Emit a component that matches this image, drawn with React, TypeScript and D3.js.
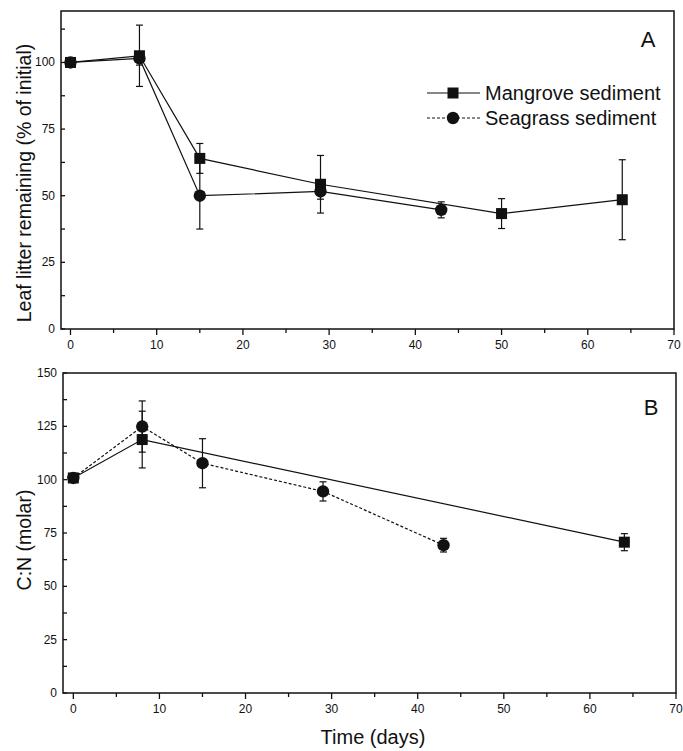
import React, { useEffect, useRef } from 'react';
import * as d3 from 'd3';

// Panel A: leaf litter remaining (% of initial)
const daysMangroveA = [0, 8, 15, 29, 50, 64];
const mangroveA = [100, 102.5, 64, 54.3, 43.3, 48.5];
const mangroveErrA = [0, 11.5, 5.6, 10.8, 5.6, 15];
const daysSeagrassA = [0, 8, 15, 29, 43];
const seagrassA = [100, 101.5, 50, 51.6, 44.7];
const seagrassErrA = [0, 2.5, 12.5, 2.9, 3];

// Panel B: C:N (molar)
const daysMangroveB = [0, 8, 64];
const mangroveB = [100.8, 118.8, 70.7];
const mangroveErrB = [0, 13.3, 4];
const daysSeagrassB = [0, 8, 15, 29, 43];
const seagrassB = [100.8, 124.9, 107.7, 94.5, 69.3];
const seagrassErrB = [0, 12, 11.5, 4.5, 3.2];

const xTicks = [0, 10, 20, 30, 40, 50, 60, 70];
const yTicksA = [0, 25, 50, 75, 100];
const yTicksB = [0, 25, 50, 75, 100, 125, 150];

const legendLabels = ['Mangrove sediment', 'Seagrass sediment'];

const FONT = '"Liberation Sans", Arial, sans-serif';

function App() {
  const ref = useRef<SVGSVGElement>(null);

  useEffect(() => {
    const svg = d3.select(ref.current);
    svg.selectAll('*').remove();

    const drawPanel = (opts: any) => {
      const { left, right, top, bottom, xDomain, yDomain, yTicks, yMinor, letter, letterPos, ylabel, ylabelY, series } = opts;
      const x = d3.scaleLinear().domain(xDomain).range([left, right]);
      const y = d3.scaleLinear().domain(yDomain).range([bottom, top]);
      const g = svg.append('g');

      // frame
      g.append('rect')
        .attr('x', left).attr('y', top)
        .attr('width', right - left).attr('height', bottom - top)
        .attr('fill', 'none').attr('stroke', '#111').attr('stroke-width', 1.5);

      // x ticks (outward)
      const xAll = d3.range(0, 71, 5);
      g.selectAll('line.xt').data(xAll).enter().append('line')
        .attr('x1', d => x(d)).attr('x2', d => x(d))
        .attr('y1', bottom).attr('y2', d => bottom + (d % 10 === 0 ? 6 : 4))
        .attr('stroke', '#111').attr('stroke-width', 1.3);
      g.selectAll('text.xl').data(xTicks).enter().append('text')
        .attr('x', d => x(d)).attr('y', bottom + 20)
        .attr('text-anchor', 'middle')
        .style('font-family', FONT).style('font-size', '12px').attr('fill', '#111')
        .text(d => d);

      // y ticks (inward)
      g.selectAll('line.yt').data(yMinor).enter().append('line')
        .attr('x1', left).attr('x2', left + 4)
        .attr('y1', (d: number) => y(d)).attr('y2', (d: number) => y(d))
        .attr('stroke', '#111').attr('stroke-width', 1.3);
      g.selectAll('text.yl').data(yTicks).enter().append('text')
        .attr('x', left - 6).attr('y', (d: number) => y(d) + 4)
        .attr('text-anchor', 'end')
        .style('font-family', FONT).style('font-size', '12px').attr('fill', '#111')
        .text((d: number) => d);

      // y label
      g.append('text')
        .attr('transform', `translate(31,${ylabelY}) rotate(-90)`)
        .attr('text-anchor', 'middle')
        .style('font-family', FONT).style('font-size', '19.5px').attr('fill', '#111')
        .text(ylabel);

      // panel letter
      g.append('text')
        .attr('x', letterPos[0]).attr('y', letterPos[1])
        .attr('text-anchor', 'middle')
        .style('font-family', FONT).style('font-size', '22px').attr('fill', '#111')
        .text(letter);

      series.forEach((s: any) => {
        const pts = s.days.map((d: number, i: number) => ({ d, v: s.vals[i], e: s.errs[i] }));
        const line = d3.line<any>().x(p => x(p.d)).y(p => y(p.v));
        g.append('path').datum(pts)
          .attr('d', line).attr('fill', 'none')
          .attr('stroke', '#111').attr('stroke-width', 1.2)
          .attr('stroke-dasharray', s.dashed ? '3,2' : null);

        // error bars
        const eb = pts.filter((p: any) => p.e > 0);
        eb.forEach((p: any) => {
          const cx = x(p.d);
          g.append('line').attr('x1', cx).attr('x2', cx)
            .attr('y1', y(p.v - p.e)).attr('y2', y(p.v + p.e))
            .attr('stroke', '#111').attr('stroke-width', 1.2);
          [p.v - p.e, p.v + p.e].forEach(v => {
            g.append('line').attr('x1', cx - 3.5).attr('x2', cx + 3.5)
              .attr('y1', y(v)).attr('y2', y(v))
              .attr('stroke', '#111').attr('stroke-width', 1.2);
          });
        });

        // markers
        pts.forEach((p: any) => {
          if (s.shape === 'square') {
            g.append('rect')
              .attr('x', x(p.d) - 5.5).attr('y', y(p.v) - 5.5)
              .attr('width', 11).attr('height', 11).attr('fill', '#111');
          } else {
            g.append('circle')
              .attr('cx', x(p.d)).attr('cy', y(p.v)).attr('r', 6.2).attr('fill', '#111');
          }
        });
      });

      return { x, y };
    };

    drawPanel({
      left: 61, right: 674, top: 11, bottom: 329,
      xDomain: [-1.1, 70], yDomain: [0, 119.3],
      yTicks: yTicksA, yMinor: d3.range(0, 119, 12.5),
      letter: 'A', letterPos: [648, 47],
      ylabel: 'Leaf litter remaining (% of initial)', ylabelY: 183,
      series: [
        { days: daysMangroveA, vals: mangroveA, errs: mangroveErrA, shape: 'square', dashed: false },
        { days: daysSeagrassA, vals: seagrassA, errs: seagrassErrA, shape: 'circle', dashed: false },
      ],
    });

    drawPanel({
      left: 63, right: 676, top: 373, bottom: 693,
      xDomain: [-1.2, 70], yDomain: [0, 150],
      yTicks: yTicksB, yMinor: d3.range(0, 151, 12.5),
      letter: 'B', letterPos: [651, 415],
      ylabel: 'C:N (molar)', ylabelY: 540,
      series: [
        { days: daysMangroveB, vals: mangroveB, errs: mangroveErrB, shape: 'square', dashed: false },
        { days: daysSeagrassB, vals: seagrassB, errs: seagrassErrB, shape: 'circle', dashed: true },
      ],
    });

    // legend
    const legend = svg.append('g');
    legendLabels.forEach((lab, i) => {
      const ly = 93 + i * 25;
      legend.append('line')
        .attr('x1', 427).attr('x2', 480).attr('y1', ly).attr('y2', ly)
        .attr('stroke', '#111').attr('stroke-width', 1.2)
        .attr('stroke-dasharray', i === 1 ? '3,2' : null);
      if (i === 0) {
        legend.append('rect').attr('x', 453 - 5.5).attr('y', ly - 5.5)
          .attr('width', 11).attr('height', 11).attr('fill', '#111');
      } else {
        legend.append('circle').attr('cx', 453).attr('cy', ly).attr('r', 6.2).attr('fill', '#111');
      }
      legend.append('text')
        .attr('x', 485).attr('y', ly + 7)
        .style('font-family', FONT).style('font-size', '20px').attr('fill', '#111')
        .text(lab);
    });

    // x axis title
    svg.append('text')
      .attr('x', 373).attr('y', 744)
      .attr('text-anchor', 'middle')
      .style('font-family', FONT).style('font-size', '20px').attr('fill', '#111')
      .text('Time (days)');
  }, []);

  return (
    <svg ref={ref} width={683} height={751}
      style={{ position: 'absolute', left: 0, top: 0, background: '#fff' }} />
  );
}

export default App;
